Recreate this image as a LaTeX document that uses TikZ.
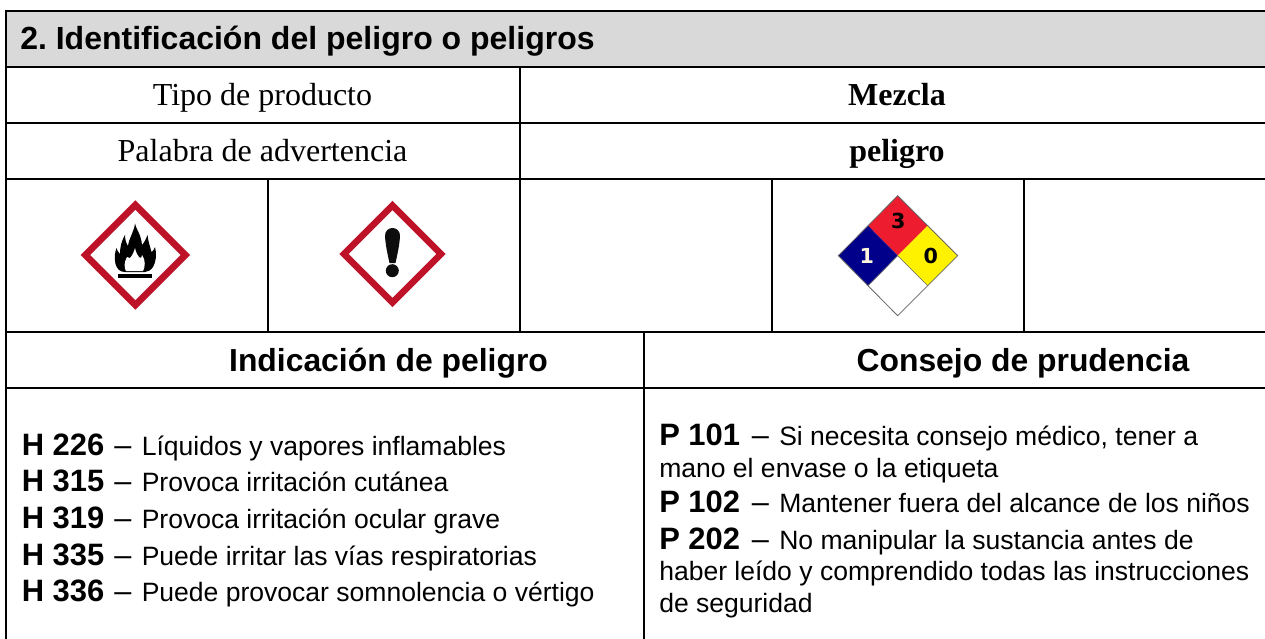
\documentclass[tikz,border=0pt]{standalone}
\usepackage{fontspec}
\setmainfont{Liberation Sans}
\newfontfamily\tnr{Liberation Serif}
\newfontfamily\nfpa{DejaVu Sans}
\definecolor{hdr}{HTML}{D9D9D9}
\definecolor{ghsred}{HTML}{BE1229}
\definecolor{nblue}{HTML}{00008B}
\definecolor{nred}{HTML}{ED1C2E}
\definecolor{nyel}{HTML}{FFF200}
\definecolor{ncream}{HTML}{FFF5DC}
\frenchspacing
\tikzset{
 x=0.75pt,y=-0.75pt,
 rule/.style={line width=1.5pt,black},
 cellt/.style={font=\tnr\fontsize{24}{28}\selectfont,inner sep=0pt,anchor=base},
 cellb/.style={font=\tnr\bfseries\fontsize{24}{28}\selectfont,inner sep=0pt,anchor=base},
 head/.style={font=\bfseries\fontsize{23.9}{28}\selectfont,inner sep=0pt,anchor=base},
 code/.style={font=\bfseries\fontsize{23.2}{28}\selectfont,inner sep=0pt,anchor=base west},
 dashmark/.style={font=\fontsize{23}{28}\selectfont,inner sep=0pt,anchor=base west},
 txt/.style={font=\fontsize{19.9}{24}\selectfont,inner sep=0pt,anchor=base west},
 ghs/.style={draw=ghsred,line width=5pt,fill=white,miter limit=10},
 digit/.style={font=\nfpa\bfseries\fontsize{15.5}{18}\selectfont,inner sep=0pt},
}
% \entryline{name}{x}{y}{code}{text}: bold code, dash, description
\newcommand{\entryline}[5]{%
 \node[code] (#1c) at (#2,#3) {#4};
 \node[dashmark] (#1d) at (#2+92.6,#3) {–};
 \node[txt] (#1t) at (#2+120,#3) {#5};
}
\begin{document}
\begin{tikzpicture}
\useasboundingbox (0,0) rectangle (1265,639);
\fill[white] (0,0) rectangle (1265,639);
\fill[hdr] (6,11) rectangle (1265,67);
% rules
\draw[rule] (6,11) -- (1265,11);
\draw[rule] (6,66.7) -- (1265,66.7);
\draw[rule] (6,10) -- (6,639);
\draw[rule] (6,122.5) -- (1265,122.5);
\draw[rule] (6,178.5) -- (1265,178.5);
\draw[rule] (6,331.7) -- (1265,331.7);
\draw[rule] (6,387.5) -- (1265,387.5);
\draw[rule] (520.3,66.7) -- (520.3,331.7);
\draw[rule] (268,178.5) -- (268,331.7);
\draw[rule] (772,178.5) -- (772,331.7);
\draw[rule] (1024,178.5) -- (1024,331.7);
\draw[rule] (644,331.7) -- (644,639);
% header
\node[font=\bfseries\fontsize{24}{28}\selectfont,inner sep=0pt,anchor=base west] (title) at (20,50) {2. Identificación del peligro o peligros};
\node[cellt] (t1) at (262.5,105) {Tipo de producto};
\node[cellb] (v1) at (897,105) {Mezcla};
\node[cellt] (t2) at (262.5,161) {Palabra de advertencia};
\node[cellb] (v2) at (897,161) {peligro};
% flame pictogram
\path[ghs] (135.3,205) -- (185.3,255) -- (135.3,305) -- (85.3,255) -- cycle;
\fill[black] (135,223.5) .. controls (136,229) and (141,234) .. (142,245) .. controls (144,243) and (146,239) .. (147.5,235) .. controls (148,241) and (150,246) .. (151.5,252) .. controls (153,251) and (154.5,249) .. (155,247) .. controls (157,254) and (156,262) .. (153,267) .. controls (151,270) and (148,272) .. (145,272) -- (125,272) .. controls (120,272) and (117,269) .. (115.5,264) .. controls (114,258) and (115,252) .. (116.5,248) .. controls (117,250) and (118,252) .. (120,254) .. controls (120,246) and (122,240) .. (125,235) .. controls (125,239) and (126,243) .. (128,246) .. controls (129,238) and (134,232) .. (135,223.5) -- cycle;
\fill[black] (118.3,274.3) rectangle (151.7,278.3);
\fill[white] (135,248) .. controls (136,253) and (138,256) .. (140,258) .. controls (141,258) and (142,257) .. (142,255) .. controls (146,260) and (145,268) .. (143,271) -- (126,271) .. controls (124,268) and (124,262) .. (127,257) .. controls (128,258) and (129,258) .. (130,258) .. controls (132,256) and (134,252) .. (135,248) -- cycle;
% exclamation pictogram
\path[ghs] (392.5,205.5) -- (441,254) -- (392.5,302.5) -- (344,254) -- cycle;
\fill[black!95] (385,237) .. controls (384,225) and (401,225) .. (400,237) .. controls (399,248) and (397,256) .. (395.5,263) -- (389.5,263) .. controls (388,256) and (386,248) .. (385,237) -- cycle;
\fill[black!95] (392.3,270.7) circle (6.5);
% NFPA diamond
\coordinate (nt) at (897.7,195.7);
\coordinate (nl) at (838.3,255.7);
\coordinate (nr) at (957.7,255.7);
\coordinate (nb) at (897.7,315.7);
\coordinate (nc) at (897.7,255.7);
\coordinate (ntl) at (868,225.7);
\coordinate (ntr) at (927.7,225.7);
\coordinate (nbl) at (868,285.7);
\coordinate (nbr) at (927.7,285.7);
\fill[nred] (nt) -- (ntr) -- (nc) -- (ntl) -- cycle;
\fill[nblue] (ntl) -- (nc) -- (nbl) -- (nl) -- cycle;
\fill[nyel] (ntr) -- (nr) -- (nbr) -- (nc) -- cycle;
\draw[black!60,line width=0.6pt] (nt) -- (nr) -- (nb) -- (nl) -- cycle;
\draw[black!60,line width=0.5pt] (nbl) -- (nc) -- (nbr);
\node[digit] (n3) at (898.3,221) {3};
\node[digit,text=ncream] (n1) at (866.7,256) {1};
\node[digit] (n0) at (930.7,256) {0};
% lower headers
\node[head] (h1) at (388.5,371) {Indicación de peligro};
\node[head] (h2) at (1023,371) {Consejo de prudencia};
% left column
\entryline{a1}{21.5}{455}{H 226}{Líquidos y vapores inflamables}
\entryline{a2}{21.5}{491.7}{H 315}{Provoca irritación cutánea}
\entryline{a3}{21.5}{528}{H 319}{Provoca irritación ocular grave}
\entryline{a4}{21.5}{565}{H 335}{Puede irritar las vías respiratorias}
\entryline{a5}{21.5}{601.7}{H 336}{Puede provocar somnolencia o vértigo}
% right column
\entryline{b1}{659}{445}{P 101}{Si necesita consejo médico, tener a}
\node[txt] (b1u) at (659,477.7) {mano el envase o la etiqueta};
\entryline{b2}{659}{512}{P 102}{Mantener fuera del alcance de los niños}
\entryline{b3}{659}{549}{P 202}{No manipular la sustancia antes de}
\node[txt] (b3u) at (659,580.7) {haber leído y comprendido todas las instrucciones};
\node[txt] (b3v) at (659,612.7) {de seguridad};
\end{tikzpicture}
\end{document}
